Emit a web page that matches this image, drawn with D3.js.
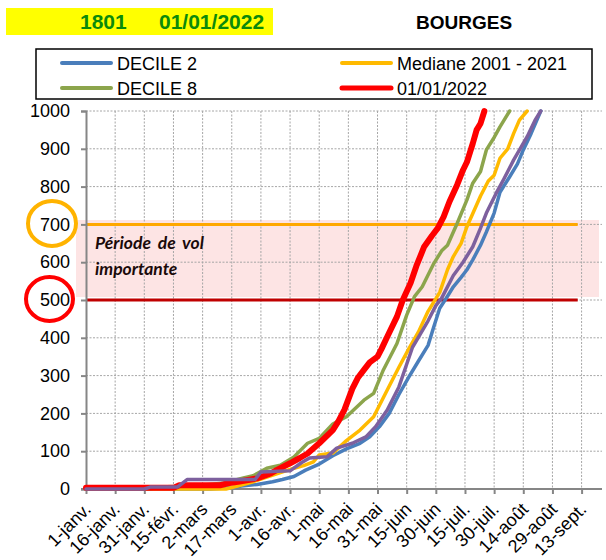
<!DOCTYPE html>
<html><head><meta charset="utf-8">
<script src="https://cdn.jsdelivr.net/npm/d3@7"></script>
<style>body{margin:0;background:#fff}svg{display:block}</style>
</head><body>
<svg id="chart" width="606" height="560"></svg>
<script>
// ---- data ----
const tickLabels = ["1-janv.","16-janv.","31-janv.","15-févr.","2-mars","17-mars","1-avr.","16-avr.","1-mai","16-mai","31-mai","15-juin","30-juin","15-juil.","30-juil.","14-août","29-août","13-sept."];
const tickDays = tickLabels.map((d,i)=>i*15);
const yTicks = [0,100,200,300,400,500,600,700,800,900,1000];
const seriesNames = ["DECILE 2","DECILE 8","Mediane 2001 - 2021","01/01/2022",""];
const seriesColors = ["#4A7EBB","#8CA54C","#FFBA00","#FF0000","#7D609E"];
// [day since 1 Jan, cumulated value]
const decile2 = [[0,0],[64,0],[74,3],[80,8],[88,12],[96,19],[101,25],[107,33],[113,50],[120,66],[127,88],[134,106],[141,121],[146,138],[151,165],[156,200],[161,250],[166,295],[171,338],[176,380],[179,430],[182,478],[186,510],[189,535],[193,560],[196,580],[199,606],[203,645],[206,680],[210,730],[213,785],[218,826],[222,860],[225,897],[229,940],[232,976],[234,1000]];
const decile8 = [[0,0],[33,0],[37,5],[55,8],[70,15],[81,29],[86,35],[93,55],[100,63],[107,85],[114,121],[120,134],[127,172],[134,191],[143,235],[148,253],[153,315],[160,385],[165,460],[169,509],[173,535],[179,597],[183,630],[186,645],[191,703],[196,765],[199,809],[203,840],[206,897],[210,930],[213,958],[218,1000]];
const mediane = [[0,0],[72,0],[78,8],[86,19],[95,35],[107,55],[112,62],[117,72],[120,90],[127,95],[134,128],[141,156],[148,191],[155,262],[161,322],[166,370],[171,415],[176,470],[182,520],[186,580],[189,615],[193,650],[196,694],[203,775],[207,815],[210,830],[213,875],[217,900],[220,940],[223,976],[227,1000]];
const y2022 = [[0,3],[45,3],[48,10],[69,10],[73,15],[79,20],[88,28],[95,41],[98,50],[105,68],[110,82],[114,94],[120,121],[127,156],[130,180],[133,210],[137,265],[140,295],[143,315],[146,335],[150,350],[152,370],[155,403],[160,456],[163,500],[167,545],[170,590],[174,641],[178,670],[181,690],[184,720],[187,760],[191,805],[194,844],[196,865],[199,914],[201,950],[203,967],[205,1000]];
const other = [[0,0],[30,0],[33,5],[47,5],[52,25],[87,25],[90,45],[105,48],[111,70],[115,82],[124,85],[129,108],[137,121],[144,138],[149,165],[155,209],[161,270],[165,330],[168,375],[172,410],[176,445],[180,485],[183,505],[189,565],[194,600],[199,641],[203,690],[206,730],[211,782],[215,820],[220,870],[227,932],[231,975],[234,1000]];
const refValues = [700,500];
const refColors = ["#FFA800","#C00000"];
const refEndDay = 253;

// ---- drawing ----
const svg = d3.select("#chart");
const FONT = "'Liberation Sans', Arial, sans-serif";
const x = d3.scaleLinear().domain([0,265.5]).range([86,602]);
const y = d3.scaleLinear().domain([0,1000]).range([489,111]);

// title
svg.append("rect").attr("x",6).attr("y",8).attr("width",267).attr("height",27).attr("fill","#FFFF00");
svg.append("text").attr("x",80).attr("y",29).attr("font-family",FONT).attr("font-weight","bold").attr("font-size",21).attr("fill","#0B8A0B").text("1801");
svg.append("text").attr("x",159).attr("y",29).attr("font-family",FONT).attr("font-weight","bold").attr("font-size",21).attr("fill","#0B8A0B").text("01/01/2022");
svg.append("text").attr("x",416).attr("y",29).attr("font-family",FONT).attr("font-weight","bold").attr("font-size",19).attr("fill","#000").text("BOURGES");

// legend
svg.append("rect").attr("x",36).attr("y",49).attr("width",556).attr("height",50).attr("fill","#fff").attr("stroke","#000").attr("stroke-width",1.5);
const legPos = [[62,63],[62,88],[342,63],[342,88]];
[0,1,2,3].forEach(i=>{
  const [lx,ly] = legPos[i];
  svg.append("line").attr("x1",lx).attr("x2",lx+49).attr("y1",ly).attr("y2",ly).attr("stroke",seriesColors[i]).attr("stroke-width",i===3?5:4).attr("stroke-linecap","round");
  svg.append("text").attr("x",lx+55).attr("y",ly+6.5).attr("font-family",FONT).attr("font-size",18).attr("fill","#000").text(seriesNames[i]);
});

// pink band annotation
svg.append("rect").attr("x",76).attr("y",220).attr("width",523).attr("height",77).attr("fill","#FDE4E4");

// grid
const g = svg.append("g");
g.selectAll(".hg").data(yTicks.filter(v=>v>0)).enter().append("line")
  .attr("x1",86).attr("x2",602).attr("y1",d=>y(d)).attr("y2",d=>y(d))
  .attr("stroke","#A6A6A6").attr("stroke-width",1).attr("stroke-dasharray","2,1.5");
g.selectAll(".vg").data(tickDays.filter(v=>v>0)).enter().append("line")
  .attr("x1",d=>x(d)).attr("x2",d=>x(d)).attr("y1",111).attr("y2",489)
  .attr("stroke","#A6A6A6").attr("stroke-width",1).attr("stroke-dasharray","2,1.5");

// band text
svg.append("text").attr("x",95).attr("y",249).attr("font-family","Lato, 'Open Sans', sans-serif").attr("font-weight","bold").attr("font-style","italic").attr("font-size",17.5).attr("fill","#1A0A0A").attr("word-spacing",3).text("Période de vol");
svg.append("text").attr("x",95).attr("y",275).attr("font-family","Lato, 'Open Sans', sans-serif").attr("font-weight","bold").attr("font-style","italic").attr("font-size",17.5).attr("fill","#1A0A0A").text("importante");

// reference lines
refValues.forEach((v,i)=>{
  svg.append("line").attr("x1",x(0)).attr("x2",x(refEndDay)).attr("y1",y(v)).attr("y2",y(v)).attr("stroke",refColors[i]).attr("stroke-width",3);
});

// axes
const yAxis = d3.axisLeft(y).tickValues(yTicks).tickSize(5).tickPadding(11).tickFormat(d3.format("d"));
const ya = svg.append("g").attr("transform","translate(86,0)").call(yAxis);
ya.select(".domain").attr("stroke","#868686").attr("stroke-width",2);
ya.selectAll(".tick line").attr("stroke","#868686").attr("stroke-width",2);
ya.selectAll(".tick text").attr("font-family",FONT).attr("font-size",18).attr("fill","#000");

const xAxis = d3.axisBottom(x).tickValues(tickDays).tickSize(5).tickFormat((d,i)=>tickLabels[i]);
const xa = svg.append("g").attr("transform","translate(0,489)").call(xAxis);
xa.select(".domain").attr("stroke","#868686").attr("stroke-width",2).attr("d","M81,0H602");
xa.selectAll(".tick line").attr("stroke","#868686").attr("stroke-width",2);
xa.selectAll(".tick text").attr("font-family",FONT).attr("font-size",18).attr("fill","#000")
  .attr("text-anchor","end").attr("y",0).attr("dy","0.35em")
  .attr("transform","translate(1,17) rotate(-45)");

// series
const line = d3.line().x(d=>x(d[0])).y(d=>y(d[1]));
const allSeries = [decile2, mediane, decile8, y2022, other];
const colorIdx = [0,2,1,3,4];
allSeries.forEach((s,k)=>{
  const ci = colorIdx[k];
  svg.append("path").datum(s).attr("d",line).attr("fill","none")
    .attr("stroke",seriesColors[ci]).attr("stroke-width",ci===3?6:3.5)
    .attr("stroke-linejoin","round").attr("stroke-linecap","round");
});

// highlight circles
svg.append("ellipse").attr("cx",52).attr("cy",y(700)-1).attr("rx",24).attr("ry",22.5).attr("fill","none").attr("stroke","#FFB300").attr("stroke-width",4);
svg.append("ellipse").attr("cx",49.5).attr("cy",y(500)-1).attr("rx",23.5).attr("ry",22).attr("fill","none").attr("stroke","#FF0000").attr("stroke-width",4);
</script>
</body></html>
